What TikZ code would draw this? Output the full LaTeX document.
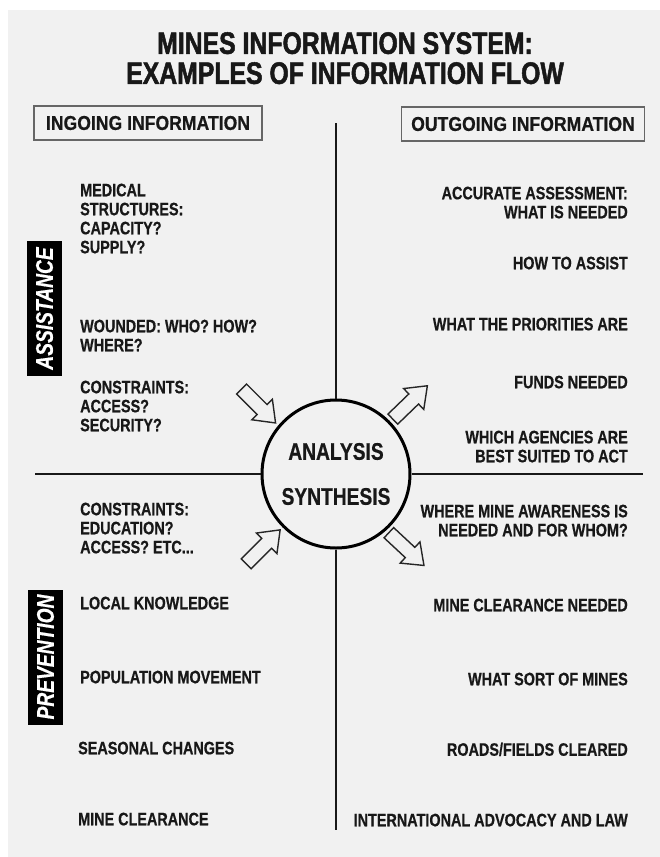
\documentclass[tikz,border=0pt]{standalone}
\usepackage{fontspec}
\usetikzlibrary{calc}
% condensed bold sans faces
\newfontfamily\narrowsans[FakeStretch=0.80, FakeBold=0.6]{Liberation Sans}
\newfontfamily\heavysans[FakeStretch=0.80, FakeBold=1.6]{Liberation Sans}
\newfontfamily\boxsans[FakeStretch=0.88, FakeBold=0.6]{Liberation Sans}
\definecolor{paper}{RGB}{241,241,241}
\definecolor{ink}{RGB}{24,24,24}
\begin{document}
\begin{tikzpicture}[x=1pt,y=1pt,
  every node/.style={inner sep=0pt, text=ink},
  item/.style={font=\narrowsans\bfseries\fontsize{18}{19}\selectfont},
  leftitem/.style={item, anchor=north west, align=left},
  rightitem/.style={item, anchor=north east, align=right},
  header/.style={draw=black!60, line width=1.2pt, minimum height=34,
    font=\boxsans\bfseries\fontsize{20}{22}\selectfont},
  sidetag/.style={fill=black, text=white, rotate=90, minimum width=135,
    minimum height=35, font=\narrowsans\bfseries\itshape\fontsize{24}{24}\selectfont},
  crossline/.style={line width=1.6pt, draw=black!90},
  hollowarrow/.style={draw=black!85, line width=1.4pt, fill=paper, line join=miter},
  blockarrow/.pic={\path[hollowarrow] (0,-7) -- (29,-7) -- (29,-14.5) -- (48,0)
    -- (29,14.5) -- (29,7) -- (0,7) -- cycle;}
]
% paper
\useasboundingbox (0,0) rectangle (660,-857);
\fill[white] (0,0) rectangle (660,-857);
\fill[paper] (8,-10) rectangle (660,-857);

% title
\node[font=\heavysans\bfseries\fontsize{31}{30}\selectfont, align=center, anchor=north]
  (title) at (345,-32) {MINES INFORMATION SYSTEM:\\EXAMPLES OF INFORMATION FLOW};

% column headers
\node[header, minimum width=228] (ingoing) at (148,-123) {INGOING INFORMATION};
\node[header, minimum width=243] (outgoing) at (523,-124) {OUTGOING INFORMATION};

% cross and central circle
\coordinate (vtop) at (336,-123);
\coordinate (vbot) at (336,-830);
\coordinate (hleft) at (35,-474);
\coordinate (hright) at (643,-474);
\node[circle, draw=black, line width=3pt, minimum size=148, fill=paper, align=center,
  font=\narrowsans\bfseries\fontsize{24}{45}\selectfont] (core) at (336,-474)
  {ANALYSIS\\SYNTHESIS};
\draw[crossline] (vtop) -- (core.north);
\draw[crossline] (core.south) -- (vbot);
\draw[crossline] (hleft) -- (core.west);
\draw[crossline] (core.east) -- (hright);

% flow arrows into and out of the circle
\pic[rotate=-45] at ($(core.center)+(138:127)$) {blockarrow};
\pic[rotate=45]  at ($(core.center)+(225:127)$) {blockarrow};
\pic[rotate=44]  at ($(core.center)+(44:79)$)   {blockarrow};
\pic[rotate=-43] at ($(core.center)+(312:79)$)  {blockarrow};

% side tags
\node[sidetag] (assist) at (44.5,-308.5) {ASSISTANCE};
\node[sidetag] (prevent) at (45.5,-657) {PREVENTION};

% ingoing items
\node[leftitem] (medical) at (80,-183.5) {MEDICAL\\STRUCTURES:\\CAPACITY?\\SUPPLY?};
\node[leftitem] (wounded) at (80,-319.5) {WOUNDED: WHO? HOW?\\WHERE?};
\node[leftitem] (access) at (80,-380.5) {CONSTRAINTS:\\ACCESS?\\SECURITY?};
\node[leftitem] (education) at (80,-502.5) {CONSTRAINTS:\\EDUCATION?\\ACCESS? ETC...};
\node[leftitem] (local) at (80,-596.5) {LOCAL KNOWLEDGE};
\node[leftitem] (population) at (80,-670.5) {POPULATION MOVEMENT};
\node[leftitem] (seasonal) at (78,-741.5) {SEASONAL CHANGES};
\node[leftitem] (clearance) at (78,-812.5) {MINE CLEARANCE};

% outgoing items
\node[rightitem] (assessment) at (628,-186.5) {ACCURATE ASSESSMENT:\\WHAT IS NEEDED};
\node[rightitem] (howto) at (628,-256.5) {HOW TO ASSIST};
\node[rightitem] (priorities) at (628,-317.5) {WHAT THE PRIORITIES ARE};
\node[rightitem] (funds) at (628,-375.5) {FUNDS NEEDED};
\node[rightitem] (agencies) at (628,-430.5) {WHICH AGENCIES ARE\\BEST SUITED TO ACT};
\node[rightitem] (awareness) at (628,-504.5) {WHERE MINE AWARENESS IS\\NEEDED AND FOR WHOM?};
\node[rightitem] (needed) at (628,-598.5) {MINE CLEARANCE NEEDED};
\node[rightitem] (sorts) at (628,-672.5) {WHAT SORT OF MINES};
\node[rightitem] (roads) at (628,-742.5) {ROADS/FIELDS CLEARED};
\node[rightitem] (advocacy) at (628,-813.5) {INTERNATIONAL ADVOCACY AND LAW};
\end{tikzpicture}
\end{document}
